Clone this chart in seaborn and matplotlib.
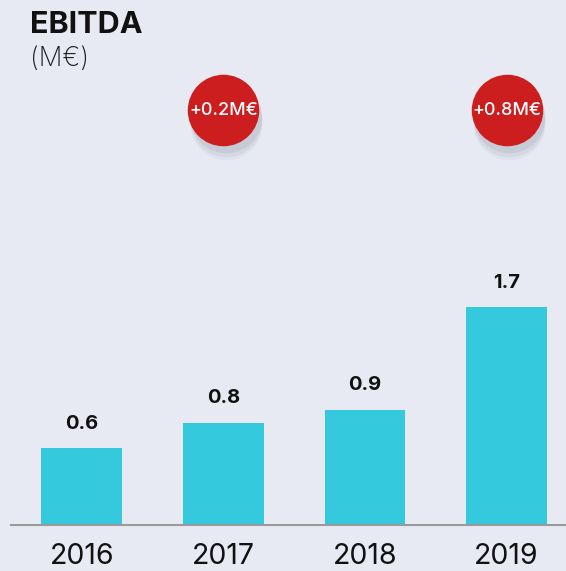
import matplotlib.pyplot as plt
import seaborn as sns
import pandas as pd

years = ["2016", "2017", "2018", "2019"]
ebitda = [0.6, 0.8, 0.9, 1.7]
badge_years = ["2017", "2019"]
badge_labels = ["+0.2M€", "+0.8M€"]

bg = "#E7E9F3"
bar_color = "#35C9DD"
red = "#CC1E1E"

sns.set_theme(style="white")
plt.rcParams["font.family"] = ["Inter", "DejaVu Sans"]

df = pd.DataFrame({"year": years, "ebitda": ebitda})

fig = plt.figure(figsize=(5.66, 5.71), dpi=100, facecolor=bg)
ax = fig.add_axes([11 / 566, 46 / 571, 555 / 566, 525 / 571])
ax.set_facecolor(bg)

sns.barplot(data=df, x="year", y="ebitda", color=bar_color, saturation=1, width=0.57,
            linewidth=0, ax=ax)

ax.set_xlim(-0.5, 3.42)
ax.set_ylim(0, 525 / 128)

for i, v in enumerate(ebitda):
    ax.text(i, v + 0.12, f"{v}", ha="center", va="bottom", fontsize=14.5,
            fontweight="bold", color="#111111")

# badges with a soft shadow
pos = [years.index(y) for y in badge_years]
by = [3.24] * len(pos)
for k, a in [(0.11, 0.08), (0.08, 0.12), (0.05, 0.18)]:
    ax.scatter([p + 0.02 for p in pos], [b - k for b in by], s=2650, color="#8a90a0",
               alpha=a, linewidths=0, zorder=3)
ax.scatter(pos, by, s=2650, color=red, linewidths=0, zorder=4)
for p, b, lab in zip(pos, by, badge_labels):
    ax.text(p, b, lab, ha="center", va="center", fontsize=13, color="white",
            fontweight="medium", zorder=5)

sns.despine(ax=ax, left=True, top=True, right=True)
ax.spines["bottom"].set_color("#9a9a9a")
ax.spines["bottom"].set_linewidth(1.5)
ax.set_yticks([])
ax.set_xlabel("")
ax.set_ylabel("")
ax.tick_params(axis="x", length=0, pad=13, labelsize=20.5, labelcolor="#111111")

fig.text(30 / 566, 1 - 33 / 571, "EBITDA", fontsize=22, fontweight="bold",
         color="#111111", va="baseline")
fig.text(30 / 566, 1 - 66 / 571, "(M€)", fontsize=19, fontweight="light",
         color="#1a1a1a", va="baseline")

fig.savefig("out.png", dpi=100, facecolor=bg)
